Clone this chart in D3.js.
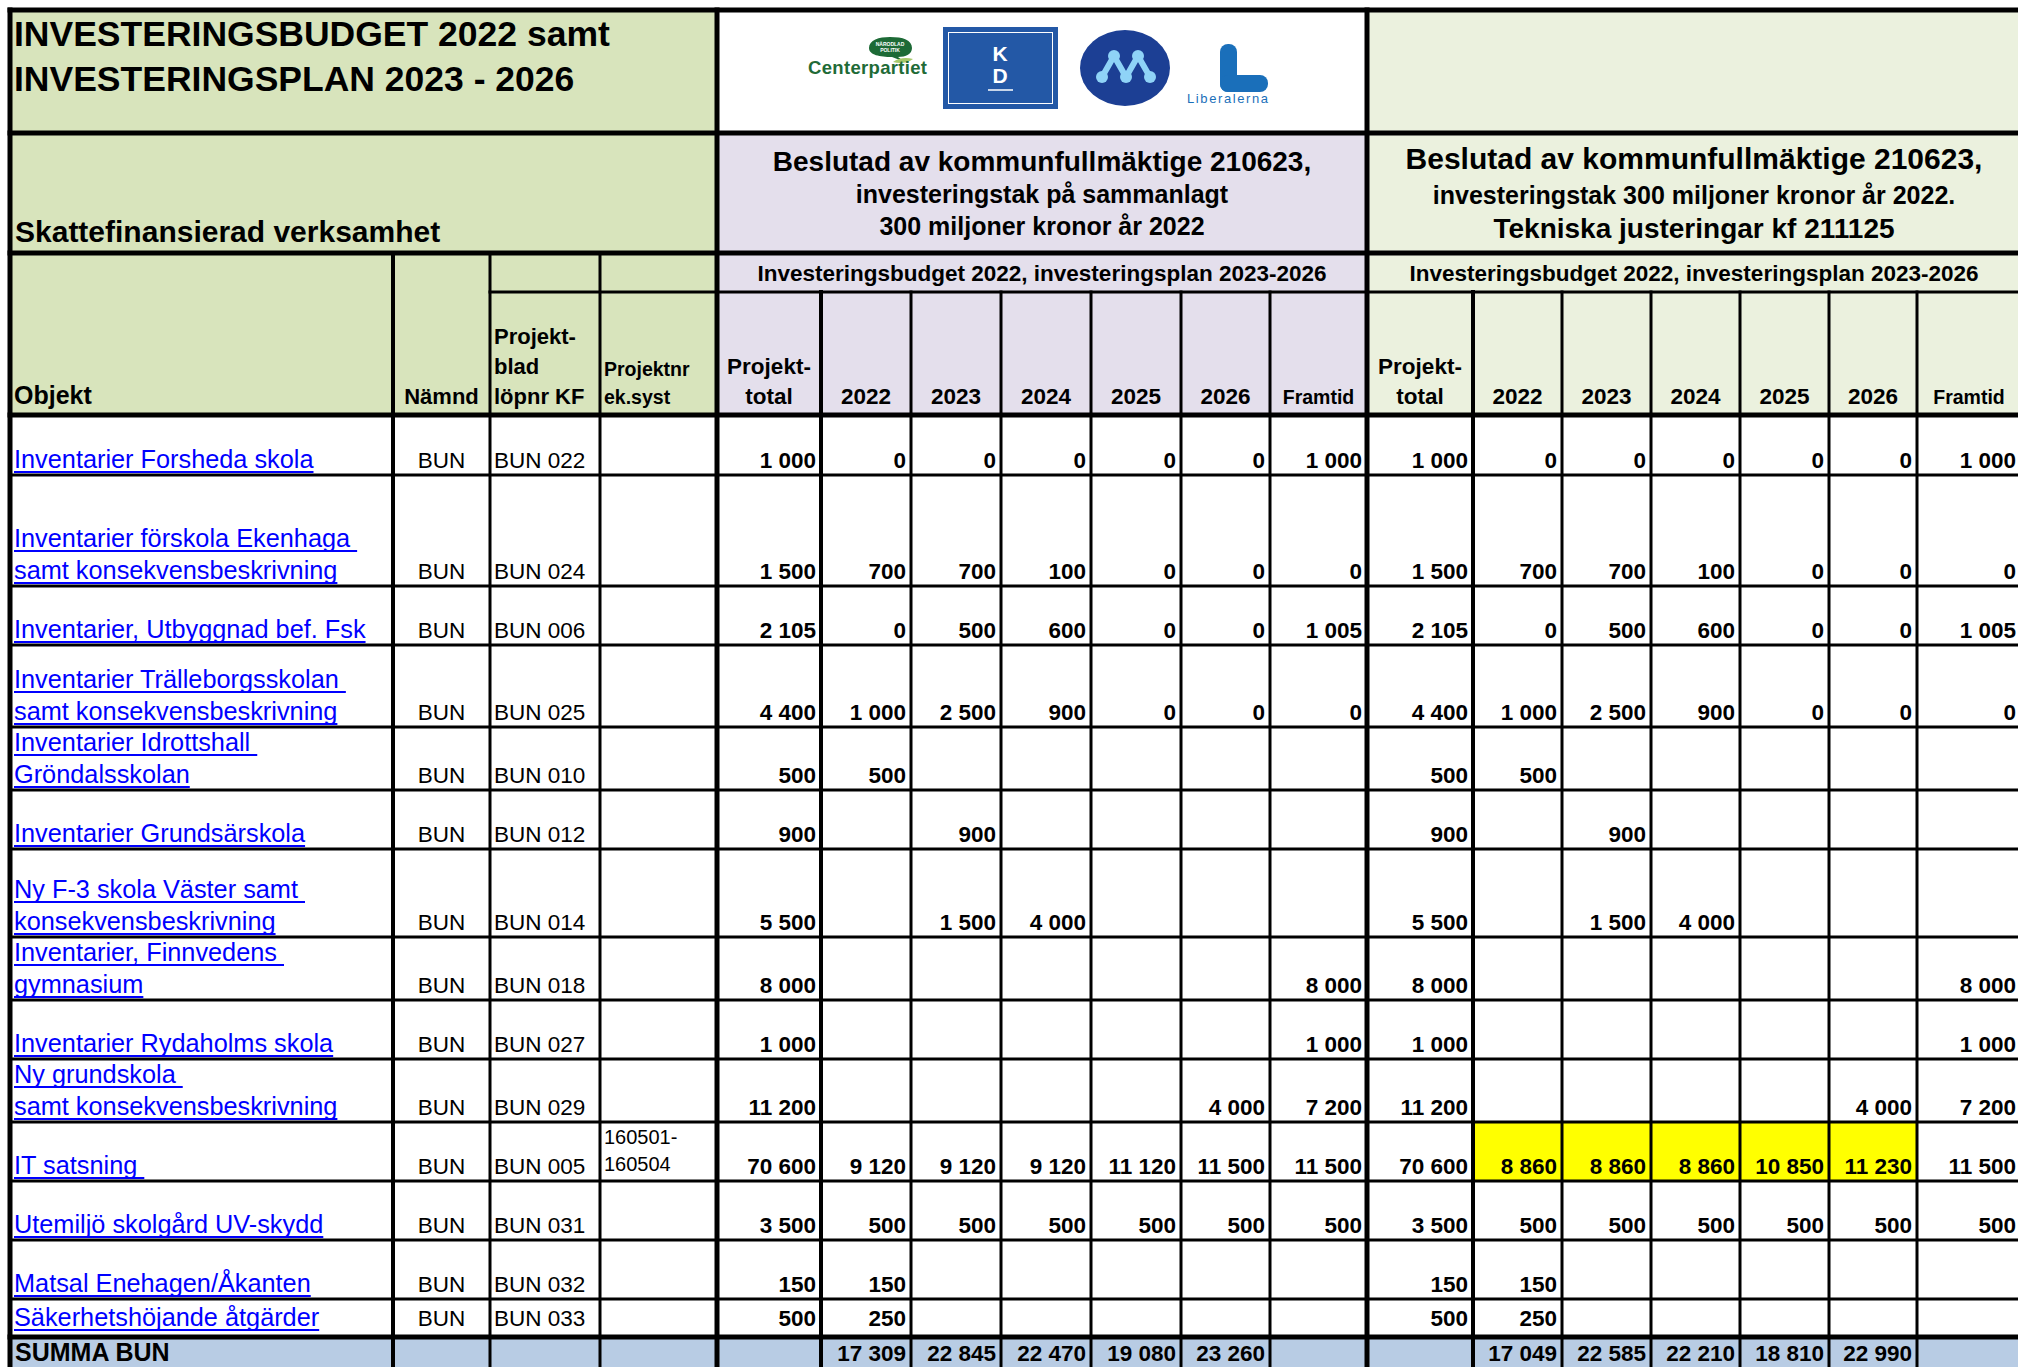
<!DOCTYPE html>
<html>
<head>
<meta charset="utf-8">
<script src="https://cdn.jsdelivr.net/npm/d3@7"></script>
<style>
  html, body { margin: 0; padding: 0; background: #fff; overflow: hidden; }
  svg { display: block; }
  text { font-family: Arial, "Liberation Sans", sans-serif; }
</style>
</head>
<body>
<div id="sheet"></div>
<script>
// ---- data read from the sheet ----
const objekt = [
  'Inventarier Forsheda skola',
  'Inventarier förskola Ekenhaga \nsamt konsekvensbeskrivning',
  'Inventarier, Utbyggnad bef. Fsk',
  'Inventarier Trälleborgsskolan \nsamt konsekvensbeskrivning',
  'Inventarier Idrottshall \nGröndalsskolan',
  'Inventarier Grundsärskola',
  'Ny F-3 skola Väster samt \nkonsekvensbeskrivning',
  'Inventarier, Finnvedens \ngymnasium',
  'Inventarier Rydaholms skola',
  'Ny grundskola \nsamt konsekvensbeskrivning',
  'IT satsning ',
  'Utemiljö skolgård UV-skydd',
  'Matsal Enehagen/Åkanten',
  'Säkerhetshöjande åtgärder'
];
const namnd = ['BUN', 'BUN', 'BUN', 'BUN', 'BUN', 'BUN', 'BUN', 'BUN', 'BUN', 'BUN', 'BUN', 'BUN', 'BUN', 'BUN'];
const projektblad = ['BUN 022', 'BUN 024', 'BUN 006', 'BUN 025', 'BUN 010', 'BUN 012', 'BUN 014',
  'BUN 018', 'BUN 027', 'BUN 029', 'BUN 005', 'BUN 031', 'BUN 032', 'BUN 033'];
const projektnr = ['', '', '', '', '', '', '', '', '', '', '160501-\n160504', '', '', ''];

const periods = ['Projekt-\ntotal', '2022', '2023', '2024', '2025', '2026', 'Framtid'];

// Beslutad av kommunfullmäktige 210623
const budget210623 = [
  [1000, 0, 0, 0, 0, 0, 1000],
  [1500, 700, 700, 100, 0, 0, 0],
  [2105, 0, 500, 600, 0, 0, 1005],
  [4400, 1000, 2500, 900, 0, 0, 0],
  [500, 500, null, null, null, null, null],
  [900, null, 900, null, null, null, null],
  [5500, null, 1500, 4000, null, null, null],
  [8000, null, null, null, null, null, 8000],
  [1000, null, null, null, null, null, 1000],
  [11200, null, null, null, null, 4000, 7200],
  [70600, 9120, 9120, 9120, 11120, 11500, 11500],
  [3500, 500, 500, 500, 500, 500, 500],
  [150, 150, null, null, null, null, null],
  [500, 250, null, null, null, null, null]
];
// Tekniska justeringar kf 211125
const budget211125 = [
  [1000, 0, 0, 0, 0, 0, 1000],
  [1500, 700, 700, 100, 0, 0, 0],
  [2105, 0, 500, 600, 0, 0, 1005],
  [4400, 1000, 2500, 900, 0, 0, 0],
  [500, 500, null, null, null, null, null],
  [900, null, 900, null, null, null, null],
  [5500, null, 1500, 4000, null, null, null],
  [8000, null, null, null, null, null, 8000],
  [1000, null, null, null, null, null, 1000],
  [11200, null, null, null, null, 4000, 7200],
  [70600, 8860, 8860, 8860, 10850, 11230, 11500],
  [3500, 500, 500, 500, 500, 500, 500],
  [150, 150, null, null, null, null, null],
  [500, 250, null, null, null, null, null]
];
// cells marked yellow in the adjusted plan: [row, period]
const changed211125 = [[10, 1], [10, 2], [10, 3], [10, 4], [10, 5]];

const summa210623 = [null, 17309, 22845, 22470, 19080, 23260, null];
const summa211125 = [null, 17049, 22585, 22210, 18810, 22990, null];

// ---- layout ----
const W = 2018, H = 1367;
const colKeys = ['objekt', 'namnd', 'blad', 'nr',
  'a0', 'a1', 'a2', 'a3', 'a4', 'a5', 'a6',
  'b0', 'b1', 'b2', 'b3', 'b4', 'b5', 'b6'];
const colWidths = [383, 97, 110, 117, 104, 90, 90, 90, 90, 89, 97, 106, 89, 89, 89, 89, 88, 104];
const left0 = 10, top0 = 10;
const colEdges = [left0, ...Array.from(d3.cumsum(colWidths), v => v + left0)];
const x = d3.scaleOrdinal().domain(colKeys).range(colEdges.slice(0, -1));
const cw = d3.scaleOrdinal().domain(colKeys).range(colWidths);
const xRight = k => x(k) + cw(k);
const tableRight = colEdges[colEdges.length - 1];

const headHeights = [123, 120, 39, 123];
const headEdges = [top0, ...Array.from(d3.cumsum(headHeights), v => v + top0)];
const bodyTop = headEdges[4];
const rowHeights = [60, 111, 59, 82, 63, 59, 88, 63, 59, 63, 59, 59, 59, 38];
const sumHeight = 58;
const rowEdges = [bodyTop, ...Array.from(d3.cumsum(rowHeights), v => v + bodyTop)];
const y = d3.scaleOrdinal().domain(d3.range(objekt.length)).range(rowEdges.slice(0, -1));
const rh = d3.scaleOrdinal().domain(d3.range(objekt.length)).range(rowHeights);
const sumTop = rowEdges[rowEdges.length - 1];
const tableBottom = sumTop + sumHeight;

const col = {
  green: '#d8e4bc', pale: '#ebf1de', lav: '#e4dfec', sum: '#b8cce4',
  yellow: '#ffff00', link: '#0000ff'
};

const fmt = d3.formatLocale({ decimal: ',', thousands: '\u00a0', grouping: [3], currency: ['', ''] }).format(',d');

const svg = d3.select('#sheet').append('svg')
  .attr('width', W)
  .attr('height', H);

// multi-line text, bottom anchored at yBase (baseline of the last line)
function lines(g, str, opt) {
  const parts = str.split('\n');
  const lh = opt.lineH || opt.size * 1.3;
  const first = opt.top != null ? opt.top : opt.yBase - (parts.length - 1) * lh;
  const t = g.append('text')
    .attr('x', opt.x)
    .attr('y', first)
    .attr('text-anchor', opt.anchor || 'start')
    .attr('font-size', opt.size)
    .attr('font-weight', opt.weight || 'normal')
    .attr('fill', opt.fill || '#000')
    .style('white-space', 'pre');
  parts.forEach((p, i) => {
    const ts = t.append('tspan').attr('x', opt.x).attr('y', first + i * lh).text(p);
    if (opt.underline) {
      const len = ts.node().getComputedTextLength();
      g.append('rect')
        .attr('x', opt.x)
        .attr('y', first + i * lh + 3)
        .attr('width', len)
        .attr('height', 2)
        .attr('fill', opt.fill);
    }
  });
  return t;
}

// ---- fills ----
const fills = svg.append('g');
fills.append('rect').attr('x', left0).attr('y', top0)
  .attr('width', x('a0') - left0).attr('height', bodyTop - top0).attr('fill', col.green);
fills.append('rect').attr('x', x('a0')).attr('y', top0)
  .attr('width', x('b0') - x('a0')).attr('height', headHeights[0]).attr('fill', '#fff');
fills.append('rect').attr('x', x('a0')).attr('y', headEdges[1])
  .attr('width', x('b0') - x('a0')).attr('height', bodyTop - headEdges[1]).attr('fill', col.lav);
fills.append('rect').attr('x', x('b0')).attr('y', top0)
  .attr('width', tableRight - x('b0')).attr('height', bodyTop - top0).attr('fill', col.pale);
fills.append('rect').attr('x', left0).attr('y', bodyTop)
  .attr('width', tableRight - left0).attr('height', sumTop - bodyTop).attr('fill', '#fff');
fills.selectAll('rect.hl')
  .data(changed211125)
  .join('rect')
  .attr('class', 'hl')
  .attr('x', d => x('b' + d[1]))
  .attr('y', d => y(d[0]))
  .attr('width', d => cw('b' + d[1]))
  .attr('height', d => rh(d[0]))
  .attr('fill', col.yellow);
fills.append('rect').attr('x', left0).attr('y', sumTop)
  .attr('width', tableRight - left0).attr('height', sumHeight).attr('fill', col.sum);

// ---- logos ----
const logos = svg.append('g');
// Centerpartiet
logos.append('path')
  .attr('d', 'M869,48 C869,40 879,37 890,37 C903,37 912,40 912,48 C912,54 906,57 898,57 L905,62 L892,57 C880,57 869,55 869,48 Z')
  .attr('fill', '#1d6a36');
logos.append('path')
  .attr('d', 'M893,62 C898,58 906,57 913,59 C908,63 900,64 893,62 Z')
  .attr('fill', '#a7c96a');
logos.append('text').attr('x', 890).attr('y', 46).attr('text-anchor', 'middle')
  .attr('font-size', 5).attr('font-weight', 'bold').attr('fill', '#fff').text('NÄRODLAD');
logos.append('text').attr('x', 890).attr('y', 52).attr('text-anchor', 'middle')
  .attr('font-size', 5).attr('font-weight', 'bold').attr('fill', '#fff').text('POLITIK');
logos.append('text').attr('x', 808).attr('y', 74)
  .attr('font-size', 18.5).attr('font-weight', 'bold').attr('fill', '#1f6b37')
  .attr('textLength', 119).text('Centerpartiet');
// KD
logos.append('rect').attr('x', 943).attr('y', 27).attr('width', 115).attr('height', 82).attr('fill', '#2358a6');
logos.append('rect').attr('x', 948.5).attr('y', 32.5).attr('width', 104).attr('height', 71)
  .attr('fill', 'none').attr('stroke', '#fff').attr('stroke-width', 1);
logos.append('text').attr('x', 1000).attr('y', 61).attr('text-anchor', 'middle')
  .attr('font-size', 21).attr('font-weight', 'bold').attr('fill', '#fff').text('K');
logos.append('text').attr('x', 1000).attr('y', 83).attr('text-anchor', 'middle')
  .attr('font-size', 21).attr('font-weight', 'bold').attr('fill', '#fff').text('D');
logos.append('line').attr('x1', 988).attr('x2', 1013).attr('y1', 90).attr('y2', 90)
  .attr('stroke', '#fff').attr('stroke-width', 1.5);
// Moderaterna
logos.append('ellipse').attr('cx', 1125).attr('cy', 68).attr('rx', 45).attr('ry', 38).attr('fill', '#1c3f94');
const mPts = [[1102, 77], [1114, 56], [1126, 77], [1138, 56], [1150, 77]];
logos.append('path').attr('d', d3.line()(mPts)).attr('fill', 'none')
  .attr('stroke', '#8fd3f7').attr('stroke-width', 6).attr('stroke-linejoin', 'round');
logos.selectAll('circle.m').data(mPts).join('circle').attr('class', 'm')
  .attr('cx', d => d[0]).attr('cy', d => d[1]).attr('r', 6).attr('fill', '#8fd3f7');
// Liberalerna
logos.append('rect').attr('x', 1220).attr('y', 44).attr('width', 17).attr('height', 48).attr('rx', 8).attr('fill', '#1a6fba');
logos.append('rect').attr('x', 1220).attr('y', 75).attr('width', 48).attr('height', 17).attr('rx', 8).attr('fill', '#1a6fba');
logos.append('text').attr('x', 1187).attr('y', 103)
  .attr('font-size', 13).attr('fill', '#1a6fba').attr('textLength', 81).text('Liberalerna');

// ---- header texts ----
const head = svg.append('g');
lines(head, 'INVESTERINGSBUDGET 2022 samt\nINVESTERINGSPLAN 2023 - 2026',
  { x: 14, yBase: 91, size: 35.5, weight: 'bold', lineH: 45 });
lines(head, 'Skattefinansierad verksamhet', { x: 15, yBase: 242, size: 30, weight: 'bold' });

const midA = (x('a0') + x('b0')) / 2;
const midB = (x('b0') + tableRight) / 2;
lines(head, 'Beslutad av kommunfullmäktige 210623,', { x: midA, yBase: 171, size: 28, weight: 'bold', anchor: 'middle' });
lines(head, 'investeringstak på sammanlagt', { x: midA, yBase: 203, size: 25, weight: 'bold', anchor: 'middle' });
lines(head, '300 miljoner kronor år 2022', { x: midA, yBase: 235, size: 25, weight: 'bold', anchor: 'middle' });
lines(head, 'Beslutad av kommunfullmäktige 210623,', { x: midB, yBase: 169, size: 30, weight: 'bold', anchor: 'middle' });
lines(head, 'investeringstak 300 miljoner kronor år 2022.', { x: midB, yBase: 204, size: 25, weight: 'bold', anchor: 'middle' });
lines(head, 'Tekniska justeringar kf 211125', { x: midB, yBase: 238, size: 28, weight: 'bold', anchor: 'middle' });
lines(head, 'Investeringsbudget 2022, investeringsplan 2023-2026', { x: midA, yBase: 281, size: 22.5, weight: 'bold', anchor: 'middle' });
lines(head, 'Investeringsbudget 2022, investeringsplan 2023-2026', { x: midB, yBase: 281, size: 22.5, weight: 'bold', anchor: 'middle' });

const hBase = bodyTop - 11;
lines(head, 'Objekt', { x: x('objekt') + 4, yBase: hBase, size: 25, weight: 'bold' });
lines(head, 'Nämnd', { x: x('namnd') + cw('namnd') / 2, yBase: hBase, size: 22, weight: 'bold', anchor: 'middle' });
lines(head, 'Projekt-\nblad\nlöpnr KF', { x: x('blad') + 4, yBase: hBase, size: 22, weight: 'bold', lineH: 30 });
lines(head, 'Projektnr\nek.syst', { x: x('nr') + 4, yBase: hBase, size: 19.5, weight: 'bold', lineH: 28 });
['a', 'b'].forEach(g => {
  periods.forEach((p, i) => {
    const k = g + i;
    lines(head, p, {
      x: x(k) + cw(k) / 2, yBase: hBase, anchor: 'middle', weight: 'bold',
      size: p === 'Framtid' ? 19.5 : 22.5, lineH: 30
    });
  });
});

// ---- body ----
const rows = objekt.map((o, i) => ({
  i, objekt: o, namnd: namnd[i], blad: projektblad[i], nr: projektnr[i],
  a: budget210623[i], b: budget211125[i]
}));
const body = svg.append('g');
rows.forEach(r => {
  // short rows keep the text a little higher, as in the sheet
  const pad = rh(r.i) < 45 ? 11 : 7;
  const base = y(r.i) + rh(r.i) - pad;
  lines(body, r.objekt, { x: x('objekt') + 4, yBase: base, size: 25.3, fill: col.link, underline: true, lineH: 32 });
  lines(body, r.namnd, { x: x('namnd') + cw('namnd') / 2, yBase: base, size: 22.5, anchor: 'middle' });
  lines(body, r.blad, { x: x('blad') + 4, yBase: base, size: 22.5 });
  if (r.nr) lines(body, r.nr, { x: x('nr') + 4, top: y(r.i) + 22, size: 20, lineH: 27 });
  ['a', 'b'].forEach(g => {
    r[g].forEach((v, j) => {
      if (v == null) return;
      const k = g + j;
      lines(body, fmt(v), { x: xRight(k) - 5, yBase: base, size: 22.5, weight: 'bold', anchor: 'end' });
    });
  });
});

const sumBase = sumTop + 24;
lines(body, 'SUMMA BUN', { x: x('objekt') + 5, yBase: sumBase, size: 25, weight: 'bold' });
[['a', summa210623], ['b', summa211125]].forEach(([g, vals]) => {
  vals.forEach((v, j) => {
    if (v == null) return;
    const k = g + j;
    lines(body, fmt(v), { x: xRight(k) - 5, yBase: sumBase, size: 22.5, weight: 'bold', anchor: 'end' });
  });
});

// ---- grid lines ----
const hLines = [
  { y: top0, x1: left0, x2: tableRight, w: 5 },
  { y: headEdges[1], x1: left0, x2: tableRight, w: 5 },
  { y: headEdges[2], x1: left0, x2: tableRight, w: 5 },
  { y: headEdges[3], x1: x('blad'), x2: tableRight, w: 3 },
  { y: bodyTop, x1: left0, x2: tableRight, w: 5 },
  ...rowEdges.slice(1, -1).map(v => ({ y: v, x1: left0, x2: tableRight, w: 3 })),
  { y: sumTop, x1: left0, x2: tableRight, w: 5 },
  { y: tableBottom, x1: left0, x2: tableRight, w: 5 }
];
const vLines = [
  { x: left0, y1: top0, y2: tableBottom, w: 5 },
  { x: tableRight, y1: top0, y2: tableBottom, w: 5 },
  { x: x('a0'), y1: top0, y2: tableBottom, w: 5 },
  { x: x('b0'), y1: top0, y2: tableBottom, w: 5 },
  { x: x('namnd'), y1: headEdges[2], y2: tableBottom, w: 4 },
  { x: x('blad'), y1: headEdges[2], y2: tableBottom, w: 3 },
  { x: x('nr'), y1: headEdges[2], y2: tableBottom, w: 3 },
  ...colKeys.filter(k => /^[ab][1-6]$/.test(k))
    .map(k => ({ x: x(k), y1: headEdges[3], y2: tableBottom, w: k === 'a1' || k === 'b1' ? 4 : 3 }))
];
const grid = svg.append('g').attr('stroke', '#000').attr('stroke-linecap', 'square');
grid.selectAll('line.h').data(hLines).join('line').attr('class', 'h')
  .attr('x1', d => d.x1).attr('x2', d => d.x2)
  .attr('y1', d => d.y).attr('y2', d => d.y)
  .attr('stroke-width', d => d.w);
grid.selectAll('line.v').data(vLines).join('line').attr('class', 'v')
  .attr('x1', d => d.x).attr('x2', d => d.x)
  .attr('y1', d => d.y1).attr('y2', d => d.y2)
  .attr('stroke-width', d => d.w);
</script>
</body>
</html>
